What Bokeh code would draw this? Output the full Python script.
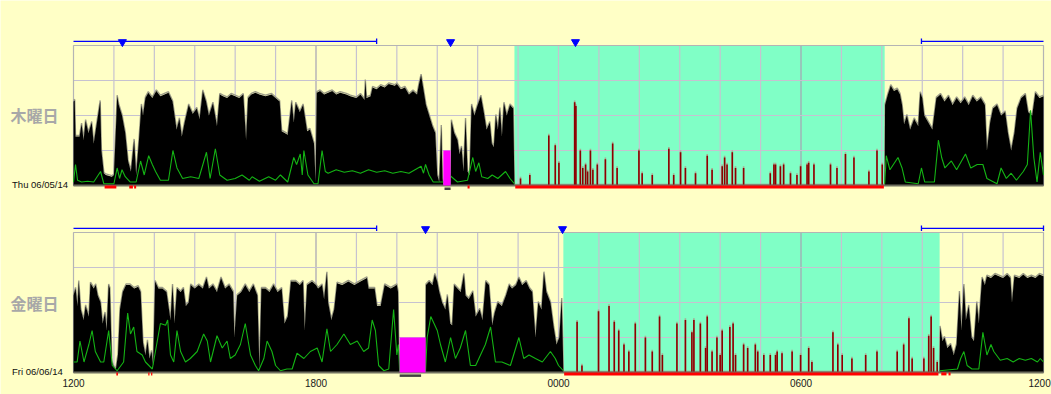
import math
from bokeh.plotting import figure
from bokeh.models import Range1d
from bokeh.embed import file_html
from bokeh.resources import INLINE
from bokeh.core.properties import value

# ---------------- data ----------------
day_labels = ["木曜日", "金曜日"]
date_labels = ["Thu 06/05/14", "Fri 06/06/14"]
tick_hours = [0, 6, 12, 18, 24]
tick_labels = ["1200", "1800", "0000", "0600", "1200"]

sleep_start = [10.91, 12.12]
sleep_end = [20.07, 21.43]

# activity envelope (hours since 12:00, level 0..4)
thu_act = [(0.0,2.4),(0.03,2.43),(0.05,1.4),(0.15,1.4),(0.2,1.75),(0.25,1.3),(0.3,1.85),(0.37,1.5),
 (0.45,1.8),(0.5,1.2),(0.58,1.8),(0.66,2.4),(0.69,1.0),(0.75,0.35),(0.8,0.3),(0.95,0.25),(1.0,0.3),
 (1.06,1.9),(1.08,2.55),(1.12,2.3),(1.2,2.0),(1.28,1.5),(1.35,0.7),(1.42,0.4),(1.5,1.3),(1.55,0.3),
 (1.62,1.3),(1.68,2.3),(1.72,2.0),(1.78,2.5),(1.85,2.65),(1.95,2.5),(2.05,2.7),(2.15,2.55),(2.25,2.6),
 (2.35,2.65),(2.45,2.4),(2.55,1.6),(2.62,1.9),(2.68,1.4),(2.75,1.8),(2.85,2.3),(2.95,2.05),(3.05,2.2),
 (3.12,1.9),(3.2,2.7),(3.28,2.4),(3.35,2.0),(3.45,2.35),(3.55,1.7),(3.62,2.6),(3.7,2.55),(3.8,2.5),
 (3.9,2.6),(4.0,2.55),(4.1,2.5),(4.2,2.6),(4.27,1.3),(4.32,2.5),(4.4,2.6),(4.5,2.65),(4.6,2.6),
 (4.75,2.55),(4.9,2.6),(5.0,2.5),(5.1,2.4),(5.15,1.55),(5.3,1.45),(5.4,2.4),(5.45,1.8),(5.5,2.35),
 (5.6,2.1),(5.68,2.3),(5.78,1.55),(5.85,1.6),(5.95,1.2),(5.99,0.1),(6.02,2.65),(6.1,2.7),(6.2,2.6),
 (6.3,2.65),(6.4,2.7),(6.5,2.6),(6.6,2.65),(6.75,2.6),(6.85,2.55),(7.0,2.5),(7.1,2.6),(7.2,2.45),
 (7.22,3.0),(7.25,2.5),(7.35,2.55),(7.4,2.8),(7.5,2.75),(7.6,2.85),(7.7,2.8),(7.8,2.9),(7.95,2.85),
 (8.0,2.9),(8.1,2.75),(8.2,2.8),(8.3,2.6),(8.4,2.7),(8.5,2.6),(8.55,2.9),(8.6,3.15),(8.65,2.8),
 (8.72,2.3),(8.8,2.0),(8.88,1.7),(8.95,1.5),(9.0,0.3),(9.05,0.1),(9.1,1.7),(9.13,0.2),(9.15,0.0),
 (9.33,0.0),(9.35,1.85),(9.42,1.5),(9.5,1.3),(9.55,0.9),(9.6,1.1),(9.65,0.4),(9.7,1.9),(9.75,0.4),
 (9.8,0.3),(9.85,2.3),(9.92,2.0),(10.0,2.3),(10.08,2.55),(10.15,2.1),(10.22,1.6),(10.3,1.8),
 (10.35,1.2),(10.4,1.1),(10.45,2.0),(10.5,1.6),(10.55,2.2),(10.6,1.4),(10.65,2.35),(10.72,2.0),
 (10.8,2.3),(10.88,2.2),(10.91,0.0),
 (20.07,0.0),(20.08,2.3),(20.15,2.6),(20.22,2.85),(20.3,2.7),(20.38,2.75),(20.45,2.6),(20.5,2.3),
 (20.55,1.75),(20.62,2.0),(20.7,1.6),(20.8,1.9),(20.9,1.7),(20.95,2.65),(21.0,2.5),(21.05,2.0),
 (21.15,1.8),(21.25,1.6),(21.35,2.5),(21.45,2.6),(21.55,2.4),(21.65,2.55),(21.75,2.3),(21.85,2.5),
 (21.95,2.35),(22.05,2.5),(22.15,2.3),(22.25,2.55),(22.35,2.4),(22.45,2.5),(22.55,2.3),(22.6,1.0),
 (22.68,1.8),(22.75,2.2),(22.85,2.3),(22.95,2.0),(23.05,2.1),(23.12,1.5),(23.2,1.0),(23.28,1.5),
 (23.35,2.2),(23.45,2.5),(23.55,2.6),(23.62,2.1),(23.72,2.0),(23.8,2.65),(23.9,2.5),(24.0,2.55)]

fri_act = [(0.0,2.2),(0.05,2.4),(0.1,1.9),(0.13,2.6),(0.18,1.8),(0.25,1.5),(0.3,1.9),(0.38,1.6),
 (0.42,2.55),(0.5,2.4),(0.55,2.5),(0.6,2.2),(0.67,2.0),(0.72,1.4),(0.78,1.7),(0.82,1.2),(0.87,2.5),
 (0.9,2.4),(0.95,0.3),(1.0,0.15),(1.05,0.1),(1.1,0.5),(1.15,1.8),(1.22,2.3),(1.3,2.5),(1.4,2.5),
 (1.5,2.4),(1.6,2.45),(1.66,2.3),(1.72,0.85),(1.78,0.5),(1.83,0.9),(1.88,0.4),(1.93,0.6),(1.97,0.2),
 (2.02,2.6),(2.1,2.4),(2.2,2.4),(2.3,2.3),(2.4,1.5),(2.45,2.5),(2.5,1.4),(2.56,2.4),(2.65,2.3),
 (2.72,2.4),(2.78,1.9),(2.85,2.0),(2.9,2.5),(3.0,2.4),(3.1,2.5),(3.2,2.4),(3.29,2.7),(3.35,2.4),
 (3.45,2.5),(3.55,2.3),(3.65,2.7),(3.75,2.4),(3.85,2.5),(3.95,2.3),(3.98,1.0),(4.05,2.2),(4.15,2.3),
 (4.25,2.5),(4.35,2.3),(4.45,2.5),(4.55,2.2),(4.6,0.1),(4.65,2.4),(4.75,2.4),(4.85,2.3),(4.95,2.5),
 (5.05,2.3),(5.15,2.4),(5.22,1.4),(5.3,1.6),(5.38,2.6),(5.5,2.6),(5.6,2.5),(5.68,2.6),(5.72,1.2),
 (5.78,2.5),(5.9,2.6),(6.0,2.5),(6.05,2.4),(6.15,2.5),(6.2,2.1),(6.27,2.85),(6.3,2.0),(6.38,1.5),
 (6.45,1.8),(6.52,2.55),(6.65,2.5),(6.8,2.6),(6.95,2.5),(7.1,2.6),(7.26,2.7),(7.3,2.4),(7.45,2.4),
 (7.51,1.9),(7.6,1.9),(7.7,2.5),(7.85,2.4),(8.0,2.5),(8.03,2.3),(8.06,0.0),(8.71,0.0),(8.72,2.5),
 (8.8,2.6),(8.88,2.5),(8.94,2.8),(9.0,2.6),(9.05,2.3),(9.12,2.0),(9.2,1.8),(9.25,2.2),(9.32,1.4),
 (9.37,1.35),(9.42,2.5),(9.5,2.4),(9.58,2.3),(9.66,2.8),(9.7,2.2),(9.78,2.1),(9.88,2.3),(9.95,1.6),
 (10.05,1.8),(10.12,1.5),(10.2,2.6),(10.28,2.5),(10.36,1.35),(10.42,1.7),(10.5,2.0),(10.6,1.9),
 (10.7,2.2),(10.78,2.5),(10.85,2.4),(10.95,2.5),(11.02,2.7),(11.1,2.5),(11.2,2.6),(11.28,2.4),
 (11.35,2.3),(11.43,1.0),(11.5,2.0),(11.58,1.8),(11.64,2.85),(11.7,2.3),(11.8,2.0),(11.88,1.3),
 (11.95,0.8),(12.02,1.0),(12.08,2.1),(12.11,0.6),(12.12,0.0),
 (21.43,0.0),(21.44,1.3),(21.5,0.9),(21.55,1.0),(21.62,0.7),(21.7,0.8),(21.78,0.5),(21.85,0.8),
 (21.92,2.3),(21.97,1.2),(22.03,2.5),(22.08,1.5),(22.15,1.9),(22.22,1.0),(22.28,0.9),(22.35,2.0),
 (22.4,1.4),(22.48,2.7),(22.55,2.5),(22.6,2.75),(22.7,2.7),(22.8,2.8),(22.9,2.75),(23.0,2.7),
 (23.1,2.8),(23.18,2.7),(23.22,2.0),(23.28,2.75),(23.4,2.7),(23.5,2.8),(23.6,2.7),(23.7,2.75),
 (23.8,2.7),(23.9,2.8),(24.0,2.75)]

GAP = None
thu_green = [(0.0,0.1),(0.05,0.6),(0.1,0.15),(0.2,0.1),(0.35,0.12),(0.5,0.1),(0.67,0.4),(0.75,0.05),
 (1.0,0.05),(1.08,0.5),(1.14,0.2),(1.2,0.45),(1.28,0.25),(1.4,0.1),(1.55,0.1),(1.66,0.7),(1.75,0.3),
 (1.86,0.85),(1.95,0.6),(2.03,0.4),(2.15,0.15),(2.35,0.15),(2.46,1.0),(2.56,0.5),(2.7,0.2),(2.9,0.25),
 (3.1,0.2),(3.29,0.95),(3.38,0.2),(3.51,1.05),(3.62,0.3),(3.8,0.15),(4.0,0.2),(4.17,0.3),(4.35,0.15),
 (4.42,0.25),(4.6,0.12),(4.83,0.25),(5.0,0.15),(5.12,0.3),(5.3,0.1),(5.45,0.8),(5.52,0.6),(5.61,0.9),
 (5.66,0.3),(5.7,1.0),(5.8,0.3),(5.95,0.05),(6.05,0.05),(6.15,1.0),(6.23,0.4),(6.3,0.35),(6.5,0.45),
 (6.7,0.38),(6.9,0.42),(7.1,0.35),(7.3,0.45),(7.5,0.38),(7.7,0.42),(7.9,0.35),(8.1,0.4),(8.3,0.35),
 (8.45,0.45),(8.6,0.55),(8.66,0.35),(8.71,0.6),(8.8,0.3),(8.9,0.1),(9.2,0.1),(9.3,0.3),(9.5,0.1),
 (9.75,0.15),(9.88,0.8),(9.95,0.4),(10.03,0.65),(10.1,0.25),(10.25,0.2),(10.36,0.3),(10.5,0.2),
 (10.69,0.4),(10.8,0.2),(10.91,0.05), GAP,
 (20.07,0.05),(20.11,0.85),(20.2,0.45),(20.4,0.8),(20.5,0.5),(20.58,0.1),(20.9,0.05),(20.98,0.5),
 (21.06,0.1),(21.3,0.1),(21.4,1.3),(21.48,0.8),(21.56,0.5),(21.72,0.7),(21.85,0.45),(22.07,0.9),
 (22.2,0.5),(22.36,0.6),(22.5,0.6),(22.6,0.2),(22.85,0.05),(22.95,0.5),(23.08,0.2),(23.2,0.35),
 (23.33,0.15),(23.5,0.4),(23.6,0.6),(23.68,2.15),(23.76,0.8),(23.84,0.1),(23.92,0.95),(24.0,0.3)]

fri_green = [(0.0,0.3),(0.09,0.3),(0.16,0.9),(0.26,0.3),(0.38,0.8),(0.46,1.2),(0.54,0.6),(0.67,0.3),
 (0.75,0.3),(0.87,1.2),(0.96,0.2),(1.08,0.05),(1.24,0.3),(1.34,1.7),(1.41,1.1),(1.49,1.3),(1.57,0.6),
 (1.7,0.5),(1.78,0.3),(1.95,0.1),(2.15,1.4),(2.28,1.35),(2.33,1.5),(2.4,0.5),(2.48,0.3),(2.56,1.2),
 (2.65,0.6),(2.77,0.3),(2.89,0.4),(3.06,0.6),(3.22,1.1),(3.31,0.9),(3.39,0.3),(3.55,1.05),(3.68,0.7),
 (3.8,0.9),(3.88,0.4),(4.0,0.5),(4.13,0.8),(4.25,1.4),(4.38,0.5),(4.5,0.2),(4.58,0.05),(4.71,0.4),
 (4.79,0.9),(4.91,0.6),(5.0,0.2),(5.12,0.05),(5.28,0.1),(5.41,0.1),(5.53,0.55),(5.7,0.4),(5.86,0.6),
 (6.03,0.7),(6.15,0.3),(6.27,1.25),(6.36,0.6),(6.52,0.8),(6.69,1.1),(6.85,0.8),(7.02,0.9),(7.18,0.6),
 (7.3,0.7),(7.39,1.5),(7.47,1.2),(7.55,0.2),(7.68,0.05),(7.8,0.1),(7.92,1.8),(8.0,0.5),(8.04,0.8),
 (8.07,0.02),(8.71,0.02),(8.75,1.0),(8.84,1.6),(9.0,1.2),(9.08,0.8),(9.2,0.3),(9.33,1.0),(9.45,0.4),
 (9.57,0.7),(9.7,1.2),(9.82,0.2),(9.95,0.2),(10.19,0.8),(10.32,1.3),(10.44,0.3),(10.6,0.3),
 (10.81,0.2),(11.02,1.0),(11.14,0.4),(11.27,0.5),(11.43,0.4),(11.6,0.3),(11.8,0.6),(11.92,0.4),
 (12.0,0.2),(12.12,0.05), GAP,
 (21.43,0.05),(21.87,0.1),(21.95,0.4),(22.03,0.6),(22.11,0.2),(22.23,0.1),(22.4,0.1),(22.5,1.15),
 (22.6,0.5),(22.7,0.8),(22.77,0.6),(22.93,0.35),(23.1,0.4),(23.25,0.3),(23.4,0.4),(23.55,0.35),
 (23.7,0.4),(23.85,0.3),(23.92,0.4),(24.0,0.3)]

# movement during the rest interval
thu_sleep = [(11.06,0.2),(11.29,0.3),(11.76,1.43),(11.92,1.15),(12.01,0.65),(12.40,2.38),(12.43,2.27),
 (12.54,1.0),(12.6,0.5),(12.67,0.6),(12.72,0.4),(12.79,1.0),(12.85,0.45),(12.96,0.6),(13.16,0.75),
 (13.34,1.2),(13.45,0.5),(13.99,1.0),(14.07,0.35),(14.32,0.3),(14.73,1.05),(14.85,0.3),(15.02,0.95),
 (15.14,0.5),(15.39,0.35),(15.68,0.85),(15.80,0.45),(16.05,0.55),(16.11,0.8),(16.17,0.6),(16.30,0.95),
 (16.38,0.5),(16.58,0.5),(17.24,0.35),(17.33,0.6),(17.37,0.6),(17.49,0.55),(17.57,0.6),(17.74,0.35),
 (17.90,0.3),(17.99,0.55),(18.15,0.6),(18.19,0.65),(18.32,0.6),(18.73,0.6),(18.89,0.5),(19.10,0.9),
 (19.31,0.8),(19.68,0.4),(19.88,1.0),(20.01,0.6)]
fri_sleep = [(12.46,1.45),(12.58,0.2),(12.99,1.75),(13.25,1.9),(13.38,1.45),(13.49,1.2),(13.62,0.8),
 (13.74,0.6),(13.90,1.4),(14.15,1.0),(14.32,0.6),(14.50,1.6),(14.57,0.5),(14.93,1.4),(15.14,1.5),
 (15.30,1.15),(15.35,1.5),(15.51,1.4),(15.64,0.7),(15.68,1.6),(15.80,0.6),(15.92,1.0),(16.0,0.5),
 (16.05,1.2),(16.24,1.3),(16.32,1.4),(16.38,0.5),(16.58,0.8),(16.68,0.7),(16.87,0.8),(16.93,0.6),
 (17.08,0.5),(17.24,0.5),(17.37,0.5),(17.41,0.6),(17.53,0.55),(17.78,0.6),(17.99,0.5),(18.19,0.7),
 (18.27,0.3),(18.79,1.15),(18.91,0.8),(19.02,0.5),(19.26,0.4),(19.60,0.5),(19.88,0.6),(20.38,0.6),
 (20.54,0.8),(20.67,1.55),(20.75,0.4),(21.04,0.4),(21.16,1.05),(21.22,1.6),(21.28,0.7),(21.37,0.3)]

# red "sleep" bars along the baseline (start, end)
thu_red = [(0.77,1.06),(1.38,1.47),(1.5,1.55),(9.75,9.8),(10.93,20.05)]
fri_red = [(1.06,1.1),(1.85,1.88),(1.92,1.95),(12.14,21.4),(21.47,21.6),(21.65,21.7)]

# off-wrist (magenta) intervals: (start, end, level)
off_wrist = [(9.15, 9.33, 1.0), (8.07, 8.71, 1.0)]
off_mark = [(9.18, 9.33), (8.07, 8.6)]

# blue marker bar above each panel
blue_spans = [[(0.0, 7.5), (20.98, 24.0)], [(0.0, 7.5), (20.98, 24.0)]]
blue_caps = [[7.5, 20.98], [7.5, 20.98, 24.0]]
blue_events = [[1.21, 9.33, 12.42], [8.71, 12.1]]

# ---------------- layout ----------------
BG = "#FFFFC6"
TEAL = "#80FFC6"
PXH = 40.417          # px per hour
PXL = 35.0            # px per level
W, H = 1051, 394
X0 = -73 / PXH
X1 = X0 + W / PXH
Y0 = -(394 - 372) / PXL
offsets = [5.343, 0.0]  # baseline of each panel
TOP = 4.0

p = figure(width=W, height=H, output_backend="svg", toolbar_location=None,
           x_range=Range1d(X0, X1), y_range=Range1d(Y0, Y0 + H / PXL),
           background_fill_color=BG, border_fill_color=BG, min_border=0)
p.axis.visible = False
p.grid.visible = False
p.outline_line_color = None

rows = [
    (thu_act, thu_green, thu_sleep, thu_red),
    (fri_act, fri_green, fri_sleep, fri_red),
]

grid_h = list(range(1, 24))
for r, (act, green, slp, red) in enumerate(rows):
    off = offsets[r]
    # rest interval shading
    p.quad(left=[sleep_start[r]], right=[sleep_end[r]], bottom=[off], top=[off + TOP],
           fill_color=TEAL, line_color=None)
    # grid
    p.segment(x0=grid_h, x1=grid_h, y0=[off] * len(grid_h), y1=[off + TOP] * len(grid_h),
              line_color=["#A6A2B4" if h in (6, 18) else "#C6C2D0" for h in grid_h], line_width=1.2)
    levels = [1, 2, 3]
    p.segment(x0=[0] * 3, x1=[24] * 3, y0=[off + l for l in levels], y1=[off + l for l in levels],
              line_color="#C6C2D0", line_width=1.2)
    # frame
    p.quad(left=[0], right=[24], bottom=[off], top=[off + TOP], fill_color=None,
           line_color="#B4B4B4", line_width=1.2)
    # activity envelope
    xs = [a[0] for a in act]
    ys = [off + a[1] for a in act]
    p.line(xs, [y + 0.03 for y in ys], line_color="#9C9C88", line_width=1.4)
    p.varea(x=xs, y1=[off] * len(xs), y2=ys, fill_color="black")
    # green line
    gx = [math.nan if g is None else g[0] for g in green]
    gy = [math.nan if g is None else off + g[1] for g in green]
    p.line(gx, gy, line_color="#14B414", line_width=1.1)
    # rest-interval movement
    sx = [s[0] for s in slp]
    p.segment(x0=sx, x1=sx, y0=[off] * len(sx), y1=[off + s[1] + 0.05 for s in slp],
              line_color="#A8A890", line_width=1.6)
    p.segment(x0=sx, x1=sx, y0=[off] * len(sx), y1=[off + s[1] for s in slp],
              line_color="#8C0000", line_width=1.6)
    # baseline
    p.segment(x0=[0], x1=[24], y0=[off], y1=[off], line_color="#707060", line_width=2)
    # red bars
    p.segment(x0=[a for a, b in red], x1=[b for a, b in red], y0=[off - 0.04] * len(red),
              y1=[off - 0.04] * len(red), line_color="#FF0000", line_width=3)
    # off-wrist
    s0, s1, lv = off_wrist[r]
    p.quad(left=[s0], right=[s1], bottom=[off], top=[off + lv], fill_color="#FF00FF", line_color=None)
    m0, m1 = off_mark[r]
    p.segment(x0=[m0], x1=[m1], y0=[off - 0.09], y1=[off - 0.09], line_color="#404040", line_width=2.5)
    # blue bar
    by = off + TOP + 0.12
    sp = blue_spans[r]
    p.segment(x0=[a for a, b in sp], x1=[b for a, b in sp], y0=[by] * len(sp), y1=[by] * len(sp),
              line_color="#0000FF", line_width=1.3)
    caps = blue_caps[r]
    p.segment(x0=caps, x1=caps, y0=[by - 0.08] * len(caps), y1=[by + 0.08] * len(caps),
              line_color="#0000FF", line_width=1.3)
    ev = blue_events[r]
    p.scatter(ev, [by - 0.02] * len(ev), marker="inverted_triangle", size=8,
              fill_color="#0000FF", line_color="#0000FF")
    # labels
    p.text([-1.56], [off + 2.0], text=[day_labels[r]], text_font=value("Noto Sans CJK JP"),
           text_font_size="16px", text_font_style="bold", text_color="#A8A8A8",
           text_baseline="middle", text_align="left")
    p.text([-1.52], [off + 0.03], text=[date_labels[r]], text_font=value("Liberation Sans"),
           text_font_size="9.5px", text_color="#101010", text_baseline="middle", text_align="left")

# hour tick labels (the last one is kept inside the right edge)
p.text(tick_hours[:-1], [-0.31] * (len(tick_hours) - 1), text=tick_labels[:-1],
       text_font=value("Liberation Sans"), text_font_size="10px", text_color="#202020",
       text_baseline="middle", text_align="center")
p.text([X1 - 0.02], [-0.31], text=[tick_labels[-1]], text_font=value("Liberation Sans"),
       text_font_size="10px", text_color="#202020", text_baseline="middle", text_align="right")

open("out.html", "w").write(file_html(p, INLINE))
